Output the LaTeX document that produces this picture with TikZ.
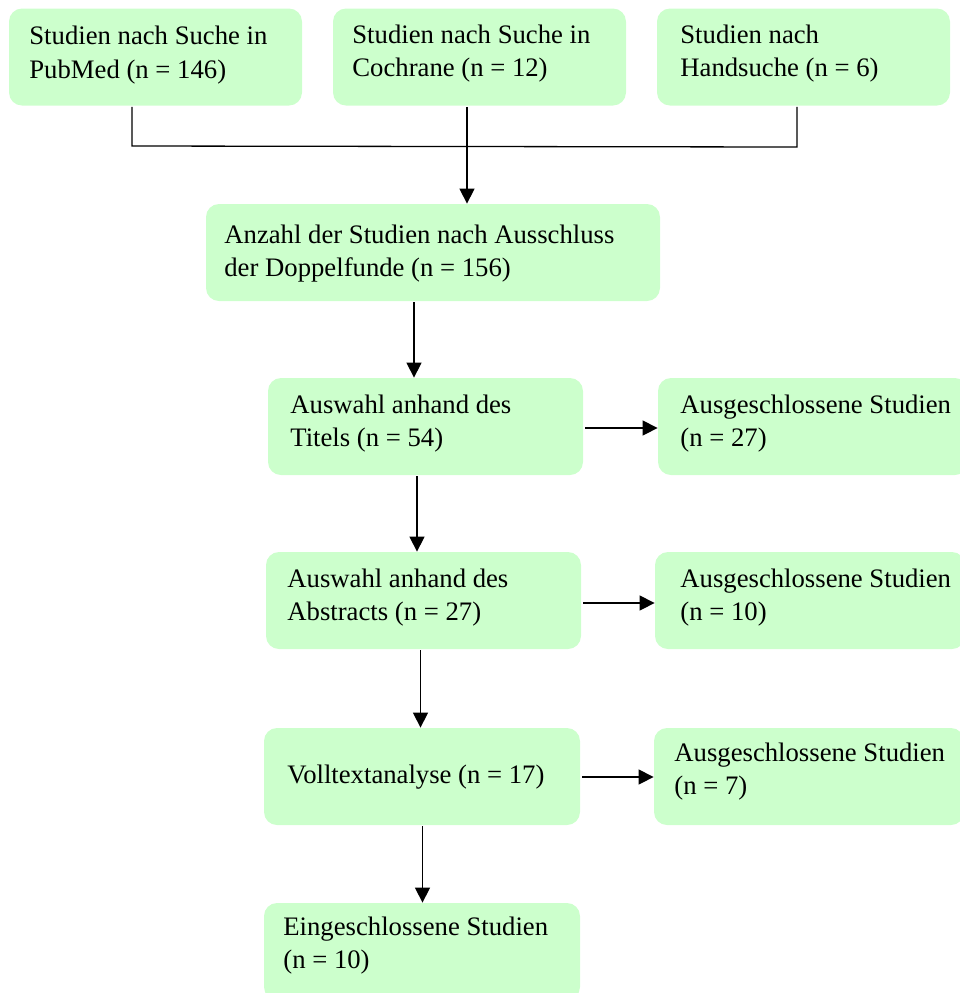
\documentclass[tikz,border=0pt]{standalone}
\usepackage{fontspec}
\setmainfont{Liberation Serif}
\usetikzlibrary{arrows.meta}
\definecolor{boxgreen}{HTML}{CCFFCC}
\tikzset{
  px/.style={x=0.5pt,y=-0.5pt},
  box/.style={draw=none,fill=boxgreen,rounded corners=6.5pt,inner sep=0pt,minimum height=48.5pt},
  txt/.style={anchor=base west,inner sep=0pt,font=\fontsize{13.35}{17}\selectfont},
  ln/.style={line width=0.65pt,draw=black},
  arr/.style={ln,-{Triangle[length=7.5pt,width=7.5pt]}}
}
\newcommand{\twolines}[5]{%
  \node[txt] (#1a) at (#2,#3) {#4};
  \node[txt] (#1b) at (#2,#3+33.5) {#5};}
\begin{document}
\begin{tikzpicture}[px]
\useasboundingbox (0,0) rectangle (960,993);
\clip (0,0) rectangle (960,993);
% boxes
\node[box,minimum width=146.5pt] (pub)  at (155.5,57) {};
\node[box,minimum width=146.5pt] (coch) at (479.5,57) {};
\node[box,minimum width=146.5pt] (hand) at (803.5,57) {};
\node[box,minimum width=227pt]   (anz)  at (433,252.5) {};
\node[box,minimum width=157.5pt] (tit)  at (425.5,426.5) {};
\node[box,minimum width=155pt]   (aus1) at (813,426.5) {};
\node[box,minimum width=157.5pt] (abs)  at (423.5,600.5) {};
\node[box,minimum width=155pt]   (aus2) at (810,600.5) {};
\node[box,minimum width=158pt]   (voll) at (422,776.5) {};
\node[box,minimum width=155pt]   (aus3) at (809,776.5) {};
\node[box,minimum width=158pt]   (ein)  at (422,951.5) {};
% texts
\twolines{tpub}{29}{44.5}{Studien nach Suche in}{PubMed (n = 146)}
\twolines{tcoch}{352}{43}{Studien nach Suche in}{Cochrane (n = 12)}
\twolines{thand}{680}{43}{Studien nach}{Handsuche (n = 6)}
\twolines{tanz}{224}{243}{Anzahl der Studien nach Ausschluss}{der Doppelfunde (n = 156)}
\twolines{ttit}{290}{413}{Auswahl anhand des}{Titels (n = 54)}
\twolines{taus1}{680}{413}{Ausgeschlossene Studien}{(n = 27)}
\twolines{tabs}{287}{587}{Auswahl anhand des}{Abstracts (n = 27)}
\twolines{taus2}{680}{587}{Ausgeschlossene Studien}{(n = 10)}
\node[txt] (tvoll) at (287,783) {Volltextanalyse (n = 17)};
\twolines{taus3}{674}{761}{Ausgeschlossene Studien}{(n = 7)}
\twolines{tein}{283}{935}{Eingeschlossene Studien}{(n = 10)}
% connectors
\coordinate (jl) at (132,146);
\coordinate (jr) at (797,147);
\draw[ln] ([yshift=-0.5pt]pub.south -| jl) -- (jl) -- (jr) -- ([yshift=-0.5pt]hand.south -| jr);
\draw[arr] ([yshift=-0.5pt]coch.south -| 467,0) -- (anz.north -| 467,0);
\draw[arr] ([yshift=-0.5pt]anz.south -| 414,0) -- (tit.north -| 414,0);
\draw[arr] ([yshift=-0.5pt]tit.south -| 417,0) -- (abs.north -| 417,0);
\draw[arr] ([yshift=-0.5pt]abs.south -| 420.5,0) -- (voll.north -| 420.5,0);
\draw[arr] ([yshift=-0.5pt]voll.south -| 422.5,0) -- (ein.north -| 422.5,0);
\draw[arr] ([xshift=1pt]tit.east |- 0,428) -- (aus1.west |- 0,428);
\draw[arr] ([xshift=1pt]abs.east |- 0,603) -- (aus2.west |- 0,603);
\draw[arr] ([xshift=1pt]voll.east |- 0,777) -- (aus3.west |- 0,777);
\end{tikzpicture}
\end{document}
